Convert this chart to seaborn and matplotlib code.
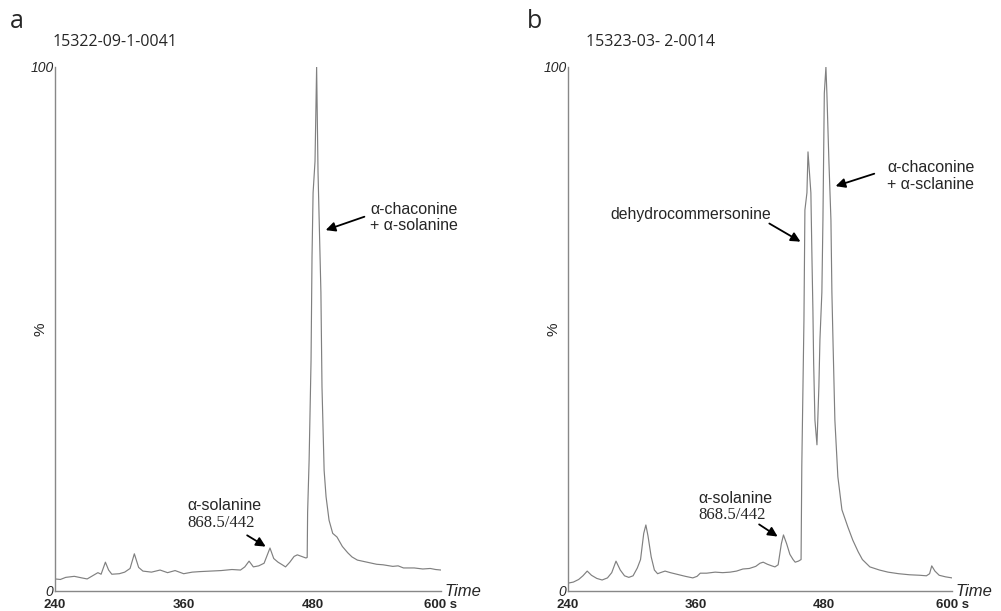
import matplotlib
matplotlib.use("Agg")
import matplotlib.pyplot as plt
import seaborn as sns
import pandas as pd

# chromatogram a (time in s, relative intensity in %)
time_a = [240, 245, 250, 258, 265, 270, 275, 280, 283, 287, 290, 293, 300, 305,
          310, 314, 318, 322, 330, 338, 345, 352, 360, 368, 375, 385, 395, 405,
          413, 417, 421, 425, 430, 435, 440.5, 444, 448, 452, 455, 459, 463, 466,
          470, 474, 475.2, 475.6, 477, 478.8, 479.7, 480.7, 482.5, 484, 485.3,
          488, 489, 491, 492.8, 495.6, 499, 503, 508, 513, 517, 522, 531, 540,
          546, 555, 560, 565, 575, 583, 590, 595, 600]
pct_a = [2.3, 2.2, 2.6, 2.8, 2.5, 2.3, 2.9, 3.5, 3.2, 5.5, 4.0, 3.2, 3.3, 3.6,
         4.3, 7.1, 4.5, 3.8, 3.6, 4.0, 3.5, 3.9, 3.3, 3.6, 3.7, 3.8, 3.9, 4.1,
         4.0, 4.6, 5.7, 4.6, 4.8, 5.3, 8.2, 6.2, 5.5, 5.0, 4.6, 5.5, 6.6, 6.9,
         6.6, 6.3, 6.4, 15, 25, 44, 63.7, 76, 82, 100, 80,
         57, 39, 23, 18, 13.5, 11.0, 10.3, 8.5, 7.3, 6.5, 5.9, 5.5, 5.1,
         5.0, 4.7, 4.8, 4.4, 4.4, 4.2, 4.3, 4.1, 4.0]

# chromatogram b
time_b = [240, 245, 250, 254, 258, 262, 267, 272, 277, 281, 285, 289, 293, 297,
          301, 305, 308, 311, 313, 315, 318, 321, 324, 328, 331, 336, 342, 350,
          357, 361, 364, 370, 378, 385, 392, 398, 404, 410, 416, 420, 423, 427,
          431, 434, 437, 440, 442, 445, 448, 451, 453, 456, 458.5, 459.2, 461.2,
          462.1, 464, 465, 467.7, 468.7, 469.6, 470.3, 471.5, 473.4, 475.2,
          476.2, 478, 479, 479.6, 480.3, 481.8, 482.7, 484.6, 486.5, 487.4,
          488.4, 490.2, 493, 496.8, 502.4, 507, 512, 516, 523, 532, 540, 550,
          560, 570, 576, 579, 581, 584, 588, 594, 600]
pct_b = [1.5, 1.7, 2.2, 2.9, 3.8, 3.0, 2.4, 2.1, 2.5, 3.5, 5.7, 4.0, 2.9, 2.6,
         2.9, 4.4, 6.0, 11.0, 12.6, 10.5, 6.5, 4.0, 3.3, 3.6, 3.8, 3.5, 3.2, 2.8,
         2.5, 2.8, 3.4, 3.4, 3.6, 3.5, 3.6, 3.8, 4.2, 4.3, 4.7, 5.3, 5.5, 5.1,
         4.8, 4.6, 5.0, 9.0, 10.7, 9.0, 7.0, 6.0, 5.5, 5.7, 6.0, 24, 51.7,
         72.7, 76, 83.8, 76, 63.7, 53.6, 43.5, 32.6, 27.9, 39,
         48, 57, 70.8, 82, 95, 100, 95, 82, 70.8, 57,
         48, 32.6, 21.8, 15.5, 12.2, 9.7, 7.5, 6.0, 4.6, 4.0, 3.6, 3.3,
         3.1, 3.0, 2.9, 3.3, 4.8, 3.8, 3.0, 2.7, 2.5]

x_ticks = [240, 360, 480, 600]
x_labels = ["240", "360", "480", "600 s"]
panel_letters = ["a", "b"]
sample_ids = ["15322-09-1-0041", "15323-03- 2-0014"]


def draw_panel(ax, t, p):
    df = pd.DataFrame({"time": t, "pct": p})
    sns.lineplot(data=df, x="time", y="pct", ax=ax, color="#808080",
                 linewidth=0.85, estimator=None, sort=False)
    ax.set_xlim(240, 600)
    ax.set_ylim(0, 100)
    for side in ["top", "right"]:
        ax.spines[side].set_visible(False)
    for side in ["left", "bottom"]:
        ax.spines[side].set_color("#888888")
        ax.spines[side].set_linewidth(1.0)
    ax.set_xticks(x_ticks)
    ax.set_xticklabels(x_labels, fontweight="bold", fontsize=9.5)
    ax.set_xticks(range(240, 601, 12), minor=True)
    ax.tick_params(axis="x", which="both", direction="out", length=3,
                   color="#888888", pad=3)
    ax.set_yticks([0, 100])
    ax.set_yticklabels(["0", "100"], fontstyle="italic", fontsize=10)
    ax.set_yticks(range(0, 101, 10), minor=True)
    ax.tick_params(axis="y", which="both", direction="in", length=2.5,
                   color="#888888", pad=1)
    ax.set_xlabel("")
    ax.set_ylabel("%", fontsize=11)
    ax.yaxis.set_label_coords(-0.02, 0.5)
    ax.text(1.008, 0.0, "Time", transform=ax.transAxes, ha="left",
            va="center", fontstyle="italic", fontsize=12)


def main():
    sns.set_style("white")
    plt.rcParams["font.family"] = ["Liberation Sans", "DejaVu Sans"]

    fig = plt.figure(figsize=(10.01, 6.11), dpi=100)
    ax_a = fig.add_axes([55 / 1001, 1 - 591 / 611, 386 / 1001, 524 / 611])
    ax_b = fig.add_axes([568 / 1001, 1 - 591 / 611, 384 / 1001, 524 / 611])

    draw_panel(ax_a, time_a, pct_a)
    draw_panel(ax_b, time_b, pct_b)

    # panel letters and sample ids
    for letter, sid, lx, ix in [(panel_letters[0], sample_ids[0], 10, 53),
                                (panel_letters[1], sample_ids[1], 527, 586)]:
        fig.text(lx / 1001, 1 - 22 / 611, letter, fontsize=18, va="center",
                 family=["Open Sans", "DejaVu Sans"])
        fig.text(ix / 1001, 1 - 42 / 611, sid, fontsize=11.5,
                 va="center", family=["Open Sans", "DejaVu Sans"])

    arrow = dict(arrowstyle="-|>", color="black", lw=1.3, mutation_scale=14)
    serif = ["Liberation Serif", "DejaVu Serif"]

    # annotations a
    ax_a.annotate("", xy=(490, 68.7), xytext=(531, 71.6), arrowprops=arrow)
    ax_a.text(534, 71.3, "\u03b1-chaconine\n+ \u03b1-solanine", fontsize=11.5,
              va="center", ha="left", linespacing=1.1)
    ax_a.text(363, 16.3, "\u03b1-solanine", fontsize=11.5,
              va="center", ha="left")
    ax_a.text(363, 12.9, "868.5/442", fontsize=12, family=serif,
              va="center", ha="left")
    ax_a.annotate("", xy=(438.7, 8.2), xytext=(417, 10.9), arrowprops=arrow)

    # annotations b
    ax_b.annotate("", xy=(460.2, 66.4), xytext=(426.5, 70.4), arrowprops=arrow)
    ax_b.text(430, 71.8, "dehydrocommersonine", fontsize=11.3, va="center",
              ha="right")
    ax_b.annotate("", xy=(488.4, 77.1), xytext=(529.6, 79.8), arrowprops=arrow)
    ax_b.text(539, 79.2, "\u03b1-chaconine\n+ \u03b1-sclanine", fontsize=11.5,
              va="center", ha="left", linespacing=1.1)
    ax_b.text(362, 17.6, "\u03b1-solanine", fontsize=11.5,
              va="center", ha="left")
    ax_b.text(362, 14.5, "868.5/442", fontsize=12, family=serif,
              va="center", ha="left")
    ax_b.annotate("", xy=(438.7, 10.1), xytext=(417, 13.0), arrowprops=arrow)

    fig.savefig("out.png", dpi=100)


if __name__ == "__main__":
    main()
